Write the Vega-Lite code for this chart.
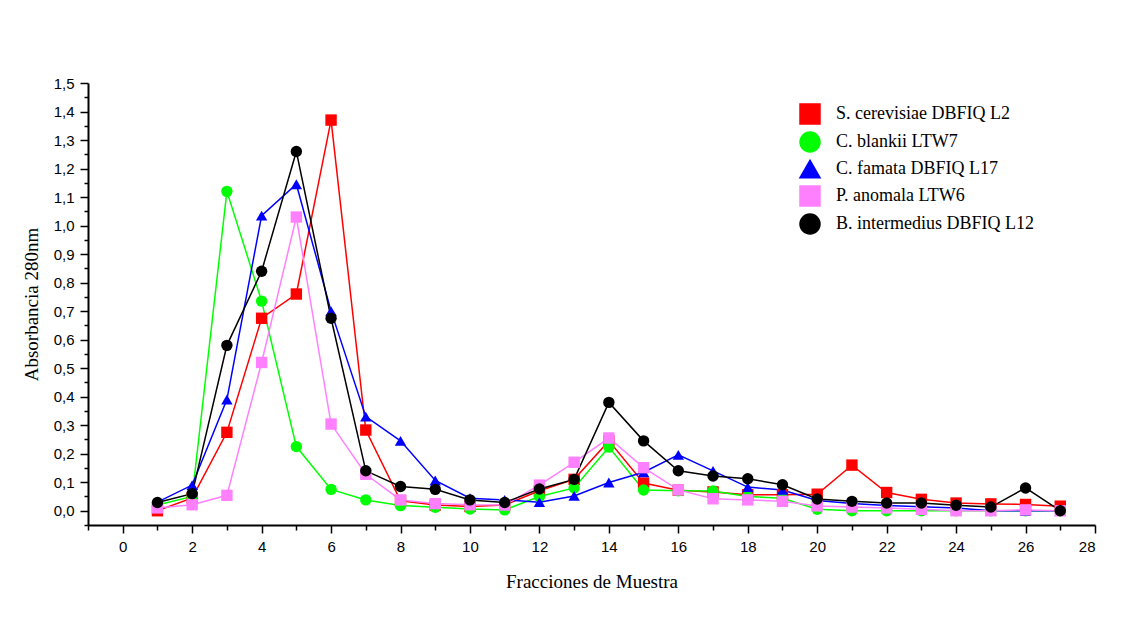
{
  "$schema": "https://vega.github.io/schema/vega-lite/v6.json",
  "width": 1007,
  "height": 442,
  "autosize": {"type": "none"},
  "padding": {"left": 88, "top": 83, "right": 30, "bottom": 96},
  "background": "white",
  "config": {
    "view": {"stroke": null},
    "axis": {"grid": false, "domainColor": "black", "domainWidth": 2, "tickColor": "black", "tickWidth": 1.5,
      "labelFont": "Liberation Sans", "labelFontSize": 15, "labelColor": "black",
      "titleFont": "Liberation Serif", "titleFontSize": 19, "titleFontWeight": "normal", "titleColor": "black"},
    "legend": {"title": null, "orient": "none", "legendX": 711, "legendY": 20, "padding": 0,
      "labelFont": "Liberation Serif", "labelFontSize": 18, "labelColor": "black", "labelOffset": 15, "rowPadding": 2,
      "symbolSize": 400, "labelLimit": 400}
  },
  "data": {"values": [
    {"f":1,"s":"S. cerevisiae DBFIQ L2","a":0.0},{"f":2,"s":"S. cerevisiae DBFIQ L2","a":0.045},{"f":3,"s":"S. cerevisiae DBFIQ L2","a":0.275},{"f":4,"s":"S. cerevisiae DBFIQ L2","a":0.675},{"f":5,"s":"S. cerevisiae DBFIQ L2","a":0.76},{"f":6,"s":"S. cerevisiae DBFIQ L2","a":1.37},{"f":7,"s":"S. cerevisiae DBFIQ L2","a":0.283},{"f":8,"s":"S. cerevisiae DBFIQ L2","a":0.035},{"f":9,"s":"S. cerevisiae DBFIQ L2","a":0.02},{"f":10,"s":"S. cerevisiae DBFIQ L2","a":0.015},{"f":11,"s":"S. cerevisiae DBFIQ L2","a":0.02},{"f":12,"s":"S. cerevisiae DBFIQ L2","a":0.07},{"f":13,"s":"S. cerevisiae DBFIQ L2","a":0.11},{"f":14,"s":"S. cerevisiae DBFIQ L2","a":0.245},{"f":15,"s":"S. cerevisiae DBFIQ L2","a":0.097},{"f":16,"s":"S. cerevisiae DBFIQ L2","a":0.072},{"f":17,"s":"S. cerevisiae DBFIQ L2","a":0.066},{"f":18,"s":"S. cerevisiae DBFIQ L2","a":0.056},{"f":19,"s":"S. cerevisiae DBFIQ L2","a":0.056},{"f":20,"s":"S. cerevisiae DBFIQ L2","a":0.058},{"f":21,"s":"S. cerevisiae DBFIQ L2","a":0.16},{"f":22,"s":"S. cerevisiae DBFIQ L2","a":0.064},{"f":23,"s":"S. cerevisiae DBFIQ L2","a":0.04},{"f":24,"s":"S. cerevisiae DBFIQ L2","a":0.027},{"f":25,"s":"S. cerevisiae DBFIQ L2","a":0.024},{"f":26,"s":"S. cerevisiae DBFIQ L2","a":0.022},{"f":27,"s":"S. cerevisiae DBFIQ L2","a":0.016},
    {"f":1,"s":"C. blankii LTW7","a":0.02},{"f":2,"s":"C. blankii LTW7","a":0.05},{"f":3,"s":"C. blankii LTW7","a":1.12},{"f":4,"s":"C. blankii LTW7","a":0.735},{"f":5,"s":"C. blankii LTW7","a":0.225},{"f":6,"s":"C. blankii LTW7","a":0.075},{"f":7,"s":"C. blankii LTW7","a":0.038},{"f":8,"s":"C. blankii LTW7","a":0.018},{"f":9,"s":"C. blankii LTW7","a":0.012},{"f":10,"s":"C. blankii LTW7","a":0.006},{"f":11,"s":"C. blankii LTW7","a":0.003},{"f":12,"s":"C. blankii LTW7","a":0.05},{"f":13,"s":"C. blankii LTW7","a":0.08},{"f":14,"s":"C. blankii LTW7","a":0.223},{"f":15,"s":"C. blankii LTW7","a":0.073},{"f":16,"s":"C. blankii LTW7","a":0.07},{"f":17,"s":"C. blankii LTW7","a":0.069},{"f":18,"s":"C. blankii LTW7","a":0.05},{"f":19,"s":"C. blankii LTW7","a":0.044},{"f":20,"s":"C. blankii LTW7","a":0.005},{"f":21,"s":"C. blankii LTW7","a":0.0},{"f":22,"s":"C. blankii LTW7","a":0.0},{"f":23,"s":"C. blankii LTW7","a":0.0},{"f":24,"s":"C. blankii LTW7","a":0.0},{"f":25,"s":"C. blankii LTW7","a":0.0},{"f":26,"s":"C. blankii LTW7","a":0.0},{"f":27,"s":"C. blankii LTW7","a":0.0},
    {"f":1,"s":"C. famata DBFIQ L17","a":0.03},{"f":2,"s":"C. famata DBFIQ L17","a":0.09},{"f":3,"s":"C. famata DBFIQ L17","a":0.39},{"f":4,"s":"C. famata DBFIQ L17","a":1.035},{"f":5,"s":"C. famata DBFIQ L17","a":1.145},{"f":6,"s":"C. famata DBFIQ L17","a":0.7},{"f":7,"s":"C. famata DBFIQ L17","a":0.33},{"f":8,"s":"C. famata DBFIQ L17","a":0.245},{"f":9,"s":"C. famata DBFIQ L17","a":0.106},{"f":10,"s":"C. famata DBFIQ L17","a":0.044},{"f":11,"s":"C. famata DBFIQ L17","a":0.038},{"f":12,"s":"C. famata DBFIQ L17","a":0.03},{"f":13,"s":"C. famata DBFIQ L17","a":0.052},{"f":14,"s":"C. famata DBFIQ L17","a":0.099},{"f":15,"s":"C. famata DBFIQ L17","a":0.135},{"f":16,"s":"C. famata DBFIQ L17","a":0.196},{"f":17,"s":"C. famata DBFIQ L17","a":0.14},{"f":18,"s":"C. famata DBFIQ L17","a":0.083},{"f":19,"s":"C. famata DBFIQ L17","a":0.073},{"f":20,"s":"C. famata DBFIQ L17","a":0.036},{"f":21,"s":"C. famata DBFIQ L17","a":0.025},{"f":22,"s":"C. famata DBFIQ L17","a":0.018},{"f":23,"s":"C. famata DBFIQ L17","a":0.014},{"f":24,"s":"C. famata DBFIQ L17","a":0.01},{"f":25,"s":"C. famata DBFIQ L17","a":0.0},{"f":26,"s":"C. famata DBFIQ L17","a":0.0},{"f":27,"s":"C. famata DBFIQ L17","a":0.0},
    {"f":1,"s":"P. anomala LTW6","a":0.01},{"f":2,"s":"P. anomala LTW6","a":0.021},{"f":3,"s":"P. anomala LTW6","a":0.054},{"f":4,"s":"P. anomala LTW6","a":0.52},{"f":5,"s":"P. anomala LTW6","a":1.03},{"f":6,"s":"P. anomala LTW6","a":0.304},{"f":7,"s":"P. anomala LTW6","a":0.128},{"f":8,"s":"P. anomala LTW6","a":0.038},{"f":9,"s":"P. anomala LTW6","a":0.025},{"f":10,"s":"P. anomala LTW6","a":0.021},{"f":11,"s":"P. anomala LTW6","a":0.02},{"f":12,"s":"P. anomala LTW6","a":0.09},{"f":13,"s":"P. anomala LTW6","a":0.17},{"f":14,"s":"P. anomala LTW6","a":0.255},{"f":15,"s":"P. anomala LTW6","a":0.151},{"f":16,"s":"P. anomala LTW6","a":0.073},{"f":17,"s":"P. anomala LTW6","a":0.042},{"f":18,"s":"P. anomala LTW6","a":0.038},{"f":19,"s":"P. anomala LTW6","a":0.033},{"f":20,"s":"P. anomala LTW6","a":0.017},{"f":21,"s":"P. anomala LTW6","a":0.013},{"f":22,"s":"P. anomala LTW6","a":0.01},{"f":23,"s":"P. anomala LTW6","a":0.005},{"f":24,"s":"P. anomala LTW6","a":0.0},{"f":25,"s":"P. anomala LTW6","a":0.0},{"f":26,"s":"P. anomala LTW6","a":0.003},{"f":27,"s":"P. anomala LTW6","a":0.0},
    {"f":1,"s":"B. intermedius DBFIQ L12","a":0.029},{"f":2,"s":"B. intermedius DBFIQ L12","a":0.06},{"f":3,"s":"B. intermedius DBFIQ L12","a":0.58},{"f":4,"s":"B. intermedius DBFIQ L12","a":0.84},{"f":5,"s":"B. intermedius DBFIQ L12","a":1.26},{"f":6,"s":"B. intermedius DBFIQ L12","a":0.675},{"f":7,"s":"B. intermedius DBFIQ L12","a":0.14},{"f":8,"s":"B. intermedius DBFIQ L12","a":0.085},{"f":9,"s":"B. intermedius DBFIQ L12","a":0.075},{"f":10,"s":"B. intermedius DBFIQ L12","a":0.038},{"f":11,"s":"B. intermedius DBFIQ L12","a":0.029},{"f":12,"s":"B. intermedius DBFIQ L12","a":0.076},{"f":13,"s":"B. intermedius DBFIQ L12","a":0.11},{"f":14,"s":"B. intermedius DBFIQ L12","a":0.38},{"f":15,"s":"B. intermedius DBFIQ L12","a":0.245},{"f":16,"s":"B. intermedius DBFIQ L12","a":0.14},{"f":17,"s":"B. intermedius DBFIQ L12","a":0.122},{"f":18,"s":"B. intermedius DBFIQ L12","a":0.112},{"f":19,"s":"B. intermedius DBFIQ L12","a":0.091},{"f":20,"s":"B. intermedius DBFIQ L12","a":0.041},{"f":21,"s":"B. intermedius DBFIQ L12","a":0.033},{"f":22,"s":"B. intermedius DBFIQ L12","a":0.027},{"f":23,"s":"B. intermedius DBFIQ L12","a":0.027},{"f":24,"s":"B. intermedius DBFIQ L12","a":0.019},{"f":25,"s":"B. intermedius DBFIQ L12","a":0.013},{"f":26,"s":"B. intermedius DBFIQ L12","a":0.08},{"f":27,"s":"B. intermedius DBFIQ L12","a":0.0}
  ]},
  "resolve": {"axis": {"x": "independent", "y": "independent"}},
  "layer": [
    {
      "mark": {"type": "line", "strokeWidth": 1.5},
      "encoding": {
        "x": {"field": "f", "type": "quantitative", "scale": {"domain": [-1, 28], "nice": false, "zero": false},
          "axis": {"orient": "bottom", "title": "Fracciones de Muestra", "values": [0,2,4,6,8,10,12,14,16,18,20,22,24,26,28], "tickSize": 8, "labelPadding": 6, "titlePadding": 18}},
        "y": {"field": "a", "type": "quantitative", "scale": {"domain": [-0.05, 1.5], "nice": false, "zero": false},
          "axis": {"orient": "left", "title": "Absorbancia 280nm", "values": [0,0.1,0.2,0.3,0.4,0.5,0.6,0.7,0.8,0.9,1.0,1.1,1.2,1.3,1.4,1.5], "labelExpr": "replace(format(datum.value, '.1f'), '.', ',')", "tickSize": 8, "labelPadding": 6, "titlePadding": 12}},
        "color": {"field": "s", "type": "nominal",
          "scale": {"domain": ["S. cerevisiae DBFIQ L2", "C. blankii LTW7", "C. famata DBFIQ L17", "P. anomala LTW6", "B. intermedius DBFIQ L12"],
            "range": ["#ff0000", "#00ff00", "#0000ff", "#ff80ff", "#000000"]}}
      }
    },
    {
      "mark": {"type": "point", "filled": true, "opacity": 1, "size": 130},
      "encoding": {
        "x": {"field": "f", "type": "quantitative",
          "axis": {"orient": "bottom", "title": null, "values": [-1,1,3,5,7,9,11,13,15,17,19,21,23,25,27], "labels": false, "domain": false, "tickSize": 5}},
        "y": {"field": "a", "type": "quantitative",
          "axis": {"orient": "left", "title": null, "values": [-0.05,0.05,0.15,0.25,0.35,0.45,0.55,0.65,0.75,0.85,0.95,1.05,1.15,1.25,1.35,1.45], "labels": false, "domain": false, "tickSize": 4}},
        "color": {"field": "s", "type": "nominal"},
        "shape": {"field": "s", "type": "nominal",
          "scale": {"domain": ["S. cerevisiae DBFIQ L2", "C. blankii LTW7", "C. famata DBFIQ L17", "P. anomala LTW6", "B. intermedius DBFIQ L12"],
            "range": ["square", "circle", "triangle-up", "square", "circle"]}}
      }
    }
  ]
}
